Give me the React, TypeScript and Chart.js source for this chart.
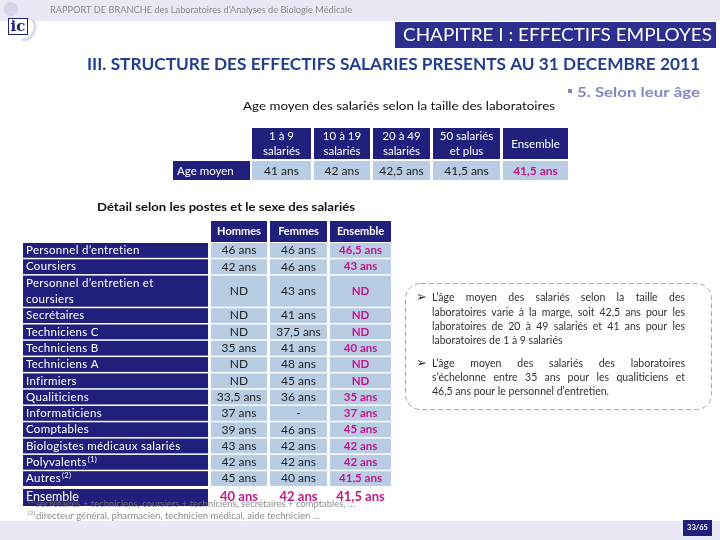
import React, { useEffect, useRef } from 'react';
import { Chart, registerables } from 'chart.js';
Chart.register(...registerables);

const FONT = 'Lato, "Open Sans", sans-serif';

const headerText = 'RAPPORT DE BRANCHE des Laboratoires d’Analyses de Biologie Médicale';
const chapterText = 'CHAPITRE I : EFFECTIFS EMPLOYES';
const sectionTitle = 'III. STRUCTURE DES EFFECTIFS SALARIES PRESENTS AU 31 DECEMBRE 2011';
const subSection = '5. Selon leur âge';
const sizeTitle = 'Age moyen des salariés selon la taille des laboratoires';
const sizeRowLabel = 'Age moyen';
const sizeCategories = [['1 à 9', 'salariés'], ['10 à 19', 'salariés'], ['20 à 49', 'salariés'], ['50 salariés', 'et plus'], ['Ensemble']];
const sizeAges = [41, 42, 42.5, 41.5, 41.5];

const detailTitle = 'Détail selon les postes et le sexe des salariés';
const sexColumns = ['Hommes', 'Femmes', 'Ensemble'];
const jobs = [
  ['Personnel d’entretien'],
  ['Coursiers'],
  ['Personnel d’entretien et', 'coursiers'],
  ['Secrétaires'],
  ['Techniciens C'],
  ['Techniciens B'],
  ['Techniciens A'],
  ['Infirmiers'],
  ['Qualiticiens'],
  ['Informaticiens'],
  ['Comptables'],
  ['Biologistes médicaux salariés'],
  ['Polyvalents'],
  ['Autres'],
];
const jobNotes = ['', '', '', '', '', '', '', '', '', '', '', '', '(1)', '(2)'];
const menAges: (number | null | string)[] = [46, 42, null, null, null, 35, null, null, 33.5, 37, 39, 43, 42, 45];
const womenAges: (number | null | string)[] = [46, 46, 43, 41, 37.5, 41, 48, 45, 36, '-', 46, 42, 42, 40];
const allAges: (number | null | string)[] = [46.5, 43, null, null, null, 40, null, null, 35, 37, 45, 42, 42, 41.5];
const totalLabel = 'Ensemble';
const totalAges = [40, 42, 41.5];

const footnoteMarks = ['(1)', '(2)'];
const footnotes = [
  'secrétaires + techniciens, coursiers + techniciens, secrétaires + comptables, …',
  'directeur général, pharmacien, technicien médical, aide technicien …',
];
const commentLines = [
  { bullet: true, justify: true, text: 'L’âge moyen des salariés selon la taille des' },
  { bullet: false, justify: true, text: 'laboratoires varie à la marge, soit 42,5 ans pour les' },
  { bullet: false, justify: true, text: 'laboratoires de 20 à 49 salariés et 41 ans pour les' },
  { bullet: false, justify: false, text: 'laboratoires de 1 à 9 salariés' },
  { bullet: true, justify: true, text: 'L’âge moyen des salariés des laboratoires' },
  { bullet: false, justify: true, text: 's’échelonne entre 35 ans pour les qualiticiens et' },
  { bullet: false, justify: false, text: '46,5 ans pour le personnel d’entretien.' },
];
const pageLabel = '33/65';

const NAVY = '#20207c';
const CHAP = '#2c2f8e';
const LIGHT = '#b8cce4';
const MAGENTA = '#c2168a';
const BAND = '#e9e9f6';

const fmt = (v: number | null | string) =>
  v === null ? 'ND' : typeof v === 'string' ? v : String(v).replace('.', ',') + ' ans';

function fitText(ctx: CanvasRenderingContext2D, text: string, x: number, y: number, width: number) {
  const w = ctx.measureText(text).width;
  const s = width / w;
  ctx.save();
  ctx.textAlign = 'left';
  ctx.translate(x, y);
  ctx.scale(s, 1);
  ctx.fillText(text, 0, 0);
  ctx.restore();
}

function justify(ctx: CanvasRenderingContext2D, text: string, x: number, y: number, width: number) {
  const words = text.split(' ');
  const total = words.reduce((a, w) => a + ctx.measureText(w).width, 0);
  const gap = (width - total) / (words.length - 1);
  let cx = x;
  ctx.textAlign = 'left';
  for (const w of words) {
    ctx.fillText(w, cx, y);
    cx += ctx.measureText(w).width + gap;
  }
}

function drawSlide(ctx: CanvasRenderingContext2D) {
  ctx.save();
  ctx.textBaseline = 'middle';
  ctx.fillStyle = '#ffffff';
  ctx.fillRect(0, 0, 720, 540);

  // header band
  ctx.fillStyle = BAND;
  ctx.fillRect(0, 0, 720, 21);
  // logo
  ctx.fillStyle = '#d5d5ec';
  ctx.beginPath();
  ctx.arc(11, 9, 7, 0, Math.PI * 2);
  ctx.fill();
  ctx.strokeStyle = '#dcdcf0';
  ctx.lineWidth = 3;
  ctx.beginPath();
  ctx.arc(22, 27, 13, -0.6, 1.6);
  ctx.stroke();
  ctx.fillStyle = '#ffffff';
  ctx.fillRect(8, 18, 20, 17);
  ctx.strokeStyle = NAVY;
  ctx.lineWidth = 1;
  ctx.strokeRect(8.5, 18.5, 19, 16);
  ctx.fillStyle = NAVY;
  ctx.font = 'bold 15px "DejaVu Serif", serif';
  ctx.textAlign = 'center';
  ctx.fillText('ic', 18, 27);

  ctx.fillStyle = '#8a8a8a';
  ctx.font = `9.5px ${FONT}`;
  fitText(ctx, headerText, 50, 10, 302);

  // chapter box
  ctx.fillStyle = CHAP;
  ctx.fillRect(395, 22, 321, 26);
  ctx.fillStyle = '#ffffff';
  ctx.font = `18px ${FONT}`;
  fitText(ctx, chapterText, 403, 35.5, 309);

  // section title
  ctx.fillStyle = '#233d90';
  ctx.font = `bold 17px ${FONT}`;
  fitText(ctx, sectionTitle, 87, 65, 613);

  // subsection
  ctx.fillStyle = '#8585c6';
  ctx.fillRect(568, 89, 4, 4);
  ctx.font = `bold 14px ${FONT}`;
  fitText(ctx, subSection, 577, 92, 123);

  // table 1
  ctx.fillStyle = '#111111';
  ctx.font = `12px ${FONT}`;
  fitText(ctx, sizeTitle, 243, 106, 312);

  const cols1 = [[252, 311], [314, 370], [373, 430], [433, 500], [503, 568]];
  ctx.fillStyle = NAVY;
  ctx.fillRect(173, 161, 77, 19);
  ctx.fillStyle = '#ffffff';
  ctx.font = `11.5px ${FONT}`;
  ctx.textAlign = 'left';
  ctx.fillText(sizeRowLabel, 177, 171);
  sizeCategories.forEach((lines, i) => {
    const [x0, x1] = cols1[i];
    const cx = (x0 + x1) / 2;
    ctx.fillStyle = NAVY;
    ctx.fillRect(x0, 128, x1 - x0, 31);
    ctx.fillStyle = '#ffffff';
    ctx.font = `11.5px ${FONT}`;
    ctx.textAlign = 'center';
    if (lines.length === 2) {
      ctx.fillText(lines[0], cx, 136.5);
      ctx.fillText(lines[1], cx, 151.5);
    } else {
      ctx.fillText(lines[0], cx, 144);
    }
    ctx.fillStyle = LIGHT;
    ctx.fillRect(x0, 161, x1 - x0, 19);
    const last = i === sizeCategories.length - 1;
    ctx.fillStyle = last ? MAGENTA : '#222222';
    ctx.font = last ? `bold 12px ${FONT}` : `12px ${FONT}`;
    ctx.fillText(fmt(sizeAges[i]), cx, 171);
  });

  // table 2
  ctx.fillStyle = '#111111';
  ctx.font = `bold 12px ${FONT}`;
  fitText(ctx, detailTitle, 97, 207, 258);

  const cols2 = [[211, 267], [270, 327], [330, 391]];
  sexColumns.forEach((name, i) => {
    const [x0, x1] = cols2[i];
    ctx.fillStyle = NAVY;
    ctx.fillRect(x0, 221, x1 - x0, 21);
    ctx.fillStyle = '#ffffff';
    ctx.font = `bold 11px ${FONT}`;
    ctx.textAlign = 'center';
    ctx.fillText(name, (x0 + x1) / 2, 231.5);
  });

  const unit = 16.3;
  const gap = 1.5;
  let top = 243;
  const series = [menAges, womenAges, allAges];
  jobs.forEach((lines, r) => {
    const units = lines.length;
    const h = units * unit - gap;
    const cy = top + h / 2;
    ctx.fillStyle = NAVY;
    ctx.fillRect(23, top, 185, h);
    ctx.fillStyle = '#ffffff';
    ctx.font = `11.5px ${FONT}`;
    ctx.textAlign = 'left';
    (ctx as any).letterSpacing = '0.3px';
    if (lines.length === 2) {
      ctx.fillText(lines[0], 26, cy - 7.5);
      ctx.fillText(lines[1], 26, cy + 8);
    } else {
      ctx.fillText(lines[0], 26, cy);
    }
    if (jobNotes[r]) {
      const w = ctx.measureText(lines[0]).width;
      ctx.font = `7.5px ${FONT}`;
      ctx.fillText(jobNotes[r], 27 + w, cy - 3);
    }
    (ctx as any).letterSpacing = '0px';
    series.forEach((vals, c) => {
      const [x0, x1] = cols2[c];
      ctx.fillStyle = LIGHT;
      ctx.fillRect(x0, top, x1 - x0, h);
      const last = c === series.length - 1;
      ctx.fillStyle = last ? MAGENTA : '#222222';
      ctx.font = last ? `bold 11.5px ${FONT}` : `12px ${FONT}`;
      ctx.textAlign = 'center';
      ctx.fillText(fmt(vals[r]), (x0 + x1) / 2, cy);
    });
    top += units * unit;
  });

  // total row
  const ty = top + 1.5;
  ctx.fillStyle = NAVY;
  ctx.fillRect(23, ty, 185, 17);
  ctx.fillStyle = '#ffffff';
  ctx.font = `12.5px ${FONT}`;
  ctx.textAlign = 'left';
  ctx.fillText(totalLabel, 26, ty + 8);
  totalAges.forEach((v, c) => {
    const [x0, x1] = cols2[c];
    ctx.fillStyle = MAGENTA;
    ctx.font = `bold 13px ${FONT}`;
    ctx.textAlign = 'center';
    ctx.fillText(fmt(v), (x0 + x1) / 2, ty + 8);
  });

  // footnotes
  ctx.fillStyle = 'rgba(120,120,120,0.85)';
  const fy = [504, 516];
  footnotes.forEach((t, i) => {
    ctx.font = `6.5px ${FONT}`;
    ctx.textAlign = 'left';
    ctx.fillText(footnoteMarks[i], 28, fy[i] - 3);
    ctx.font = `10px ${FONT}`;
    fitText(ctx, t, 36, fy[i], i === 0 ? 319 : 284);
  });

  // bottom band
  ctx.fillStyle = BAND;
  ctx.fillRect(0, 521, 720, 19);
  ctx.fillStyle = NAVY;
  ctx.fillRect(683, 520, 29, 16);
  ctx.fillStyle = '#ffffff';
  ctx.font = `bold 7.5px ${FONT}`;
  ctx.textAlign = 'center';
  ctx.fillText(pageLabel, 697.5, 528);

  // comment box
  ctx.strokeStyle = '#a6a6a6';
  ctx.lineWidth = 1;
  ctx.setLineDash([5, 3]);
  ctx.beginPath();
  (ctx as any).roundRect(405.5, 283.5, 306, 126, 15);
  ctx.stroke();
  ctx.setLineDash([]);

  const ly = [298, 313, 327, 341, 364, 378, 392];
  commentLines.forEach((l, i) => {
    ctx.fillStyle = '#333333';
    if (l.bullet) {
      ctx.font = '13px "DejaVu Sans", sans-serif';
      ctx.textAlign = 'left';
      ctx.fillText('➢', 416, ly[i]);
    }
    ctx.font = `10.5px ${FONT}`;
    if (l.justify) justify(ctx, l.text, 432, ly[i], 253);
    else {
      ctx.textAlign = 'left';
      ctx.fillText(l.text, 432, ly[i]);
    }
  });
  ctx.restore();
}

export default function App() {
  const ref = useRef<HTMLCanvasElement>(null);
  useEffect(() => {
    if (!ref.current) return;
    const chart = new Chart(ref.current, {
      type: 'scatter',
      data: { datasets: [] },
      options: {
        responsive: false,
        animation: false,
        events: [],
        layout: { padding: 0 },
        plugins: { legend: { display: false }, tooltip: { enabled: false } },
        scales: { x: { display: false, min: 0, max: 720 }, y: { display: false, min: 0, max: 540 } },
      },
      plugins: [{ id: 'slide', beforeDraw: (c: any) => drawSlide(c.ctx) }],
    });
    let alive = true;
    (document as any).fonts?.load?.(`12px Lato`).then(() => alive && chart.update()).catch(() => {});
    (document as any).fonts?.load?.(`bold 12px Lato`).then(() => alive && chart.update()).catch(() => {});
    return () => {
      alive = false;
      chart.destroy();
    };
  }, []);
  return (
    <div style={{ position: 'absolute', left: 0, top: 0, width: 720, height: 540 }}>
      <canvas ref={ref} width={720} height={540} style={{ display: 'block' }} />
    </div>
  );
}
